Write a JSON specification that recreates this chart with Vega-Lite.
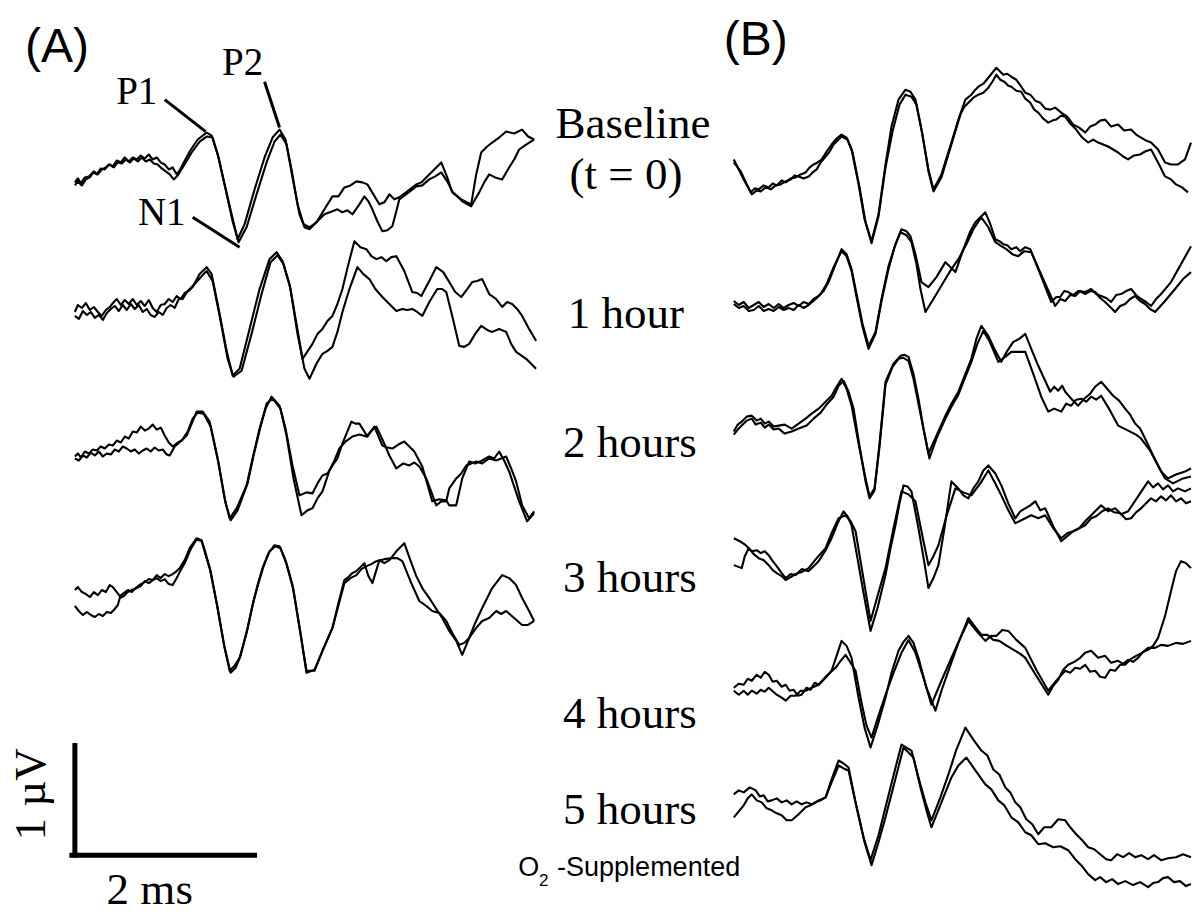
{
"$schema": "https://vega.github.io/schema/vega-lite/v6.json",
"width": 1193, "height": 913,
"autosize": {"type": "fit", "contains": "padding"},
"padding": 0,
"background": "white",
"config": {"view": {"stroke": null}},
"datasets": {
"traces": [
{"s":"A1a","x":75,"y":183},{"s":"A1a","x":78,"y":179},{"s":"A1a","x":81,"y":184},{"s":"A1a","x":85,"y":178},{"s":"A1a","x":89,"y":177},{"s":"A1a","x":93,"y":173},{"s":"A1a","x":97,"y":175},{"s":"A1a","x":101,"y":169},{"s":"A1a","x":105,"y":170},{"s":"A1a","x":109,"y":165},{"s":"A1a","x":113,"y":167},{"s":"A1a","x":117,"y":161},{"s":"A1a","x":121,"y":163},{"s":"A1a","x":125,"y":158},{"s":"A1a","x":129,"y":162},{"s":"A1a","x":133,"y":158},{"s":"A1a","x":137,"y":160},{"s":"A1a","x":141,"y":156},{"s":"A1a","x":145,"y":159},{"s":"A1a","x":149,"y":155},{"s":"A1a","x":153,"y":160},{"s":"A1a","x":157,"y":158},{"s":"A1a","x":161,"y":163},{"s":"A1a","x":165,"y":165},{"s":"A1a","x":169,"y":170},{"s":"A1a","x":173,"y":168},{"s":"A1a","x":177,"y":175},{"s":"A1a","x":180,"y":171},{"s":"A1a","x":183,"y":165},{"s":"A1a","x":190,"y":152},{"s":"A1a","x":198,"y":140},{"s":"A1a","x":207,"y":133},{"s":"A1a","x":212,"y":136},{"s":"A1a","x":218,"y":155},{"s":"A1a","x":225,"y":185},{"s":"A1a","x":232,"y":215},{"s":"A1a","x":238,"y":240},{"s":"A1a","x":245,"y":225},{"s":"A1a","x":255,"y":190},{"s":"A1a","x":265,"y":158},{"s":"A1a","x":273,"y":138},{"s":"A1a","x":280,"y":130},{"s":"A1a","x":286,"y":140},{"s":"A1a","x":292,"y":170},{"s":"A1a","x":298,"y":205},{"s":"A1a","x":305,"y":228},{"s":"A1a","x":310,"y":230},{"s":"A1a","x":317,"y":223},{"s":"A1a","x":325,"y":210},{"s":"A1a","x":333,"y":197},{"s":"A1a","x":339,"y":197},{"s":"A1a","x":345,"y":188},{"s":"A1a","x":351,"y":186},{"s":"A1a","x":357,"y":182},{"s":"A1a","x":363,"y":183},{"s":"A1a","x":368,"y":185},{"s":"A1a","x":374,"y":195},{"s":"A1a","x":380,"y":205},{"s":"A1a","x":385,"y":203},{"s":"A1a","x":390,"y":195},{"s":"A1a","x":395,"y":200},{"s":"A1a","x":400,"y":198},{"s":"A1a","x":408,"y":192},{"s":"A1a","x":417,"y":185},{"s":"A1a","x":422,"y":183},{"s":"A1a","x":427,"y":178},{"s":"A1a","x":435,"y":170},{"s":"A1a","x":442,"y":163},{"s":"A1a","x":448,"y":178},{"s":"A1a","x":453,"y":193},{"s":"A1a","x":462,"y":200},{"s":"A1a","x":472,"y":205},{"s":"A1a","x":477,"y":175},{"s":"A1a","x":482,"y":153},{"s":"A1a","x":488,"y":147},{"s":"A1a","x":493,"y":143},{"s":"A1a","x":500,"y":138},{"s":"A1a","x":507,"y":132},{"s":"A1a","x":515,"y":134},{"s":"A1a","x":523,"y":130},{"s":"A1a","x":529,"y":137},{"s":"A1a","x":535,"y":140},
{"s":"A1b","x":75,"y":186},{"s":"A1b","x":78,"y":182},{"s":"A1b","x":82,"y":186},{"s":"A1b","x":86,"y":180},{"s":"A1b","x":90,"y":178},{"s":"A1b","x":94,"y":172},{"s":"A1b","x":98,"y":175},{"s":"A1b","x":102,"y":170},{"s":"A1b","x":106,"y":168},{"s":"A1b","x":110,"y":165},{"s":"A1b","x":114,"y":168},{"s":"A1b","x":118,"y":163},{"s":"A1b","x":122,"y":164},{"s":"A1b","x":126,"y":160},{"s":"A1b","x":130,"y":163},{"s":"A1b","x":134,"y":159},{"s":"A1b","x":138,"y":162},{"s":"A1b","x":142,"y":158},{"s":"A1b","x":146,"y":162},{"s":"A1b","x":150,"y":160},{"s":"A1b","x":154,"y":164},{"s":"A1b","x":158,"y":165},{"s":"A1b","x":162,"y":169},{"s":"A1b","x":166,"y":172},{"s":"A1b","x":170,"y":175},{"s":"A1b","x":174,"y":180},{"s":"A1b","x":178,"y":176},{"s":"A1b","x":183,"y":168},{"s":"A1b","x":192,"y":153},{"s":"A1b","x":200,"y":142},{"s":"A1b","x":207,"y":137},{"s":"A1b","x":213,"y":138},{"s":"A1b","x":219,"y":158},{"s":"A1b","x":226,"y":190},{"s":"A1b","x":233,"y":222},{"s":"A1b","x":239,"y":243},{"s":"A1b","x":247,"y":228},{"s":"A1b","x":257,"y":195},{"s":"A1b","x":267,"y":163},{"s":"A1b","x":275,"y":142},{"s":"A1b","x":281,"y":135},{"s":"A1b","x":287,"y":145},{"s":"A1b","x":293,"y":178},{"s":"A1b","x":300,"y":215},{"s":"A1b","x":304,"y":225},{"s":"A1b","x":310,"y":228},{"s":"A1b","x":317,"y":223},{"s":"A1b","x":325,"y":215},{"s":"A1b","x":333,"y":212},{"s":"A1b","x":338,"y":210},{"s":"A1b","x":343,"y":213},{"s":"A1b","x":348,"y":211},{"s":"A1b","x":353,"y":215},{"s":"A1b","x":360,"y":205},{"s":"A1b","x":365,"y":197},{"s":"A1b","x":369,"y":202},{"s":"A1b","x":373,"y":210},{"s":"A1b","x":378,"y":222},{"s":"A1b","x":383,"y":232},{"s":"A1b","x":388,"y":231},{"s":"A1b","x":393,"y":227},{"s":"A1b","x":397,"y":212},{"s":"A1b","x":400,"y":200},{"s":"A1b","x":408,"y":194},{"s":"A1b","x":417,"y":187},{"s":"A1b","x":423,"y":186},{"s":"A1b","x":430,"y":180},{"s":"A1b","x":436,"y":177},{"s":"A1b","x":442,"y":173},{"s":"A1b","x":448,"y":182},{"s":"A1b","x":453,"y":192},{"s":"A1b","x":463,"y":202},{"s":"A1b","x":472,"y":207},{"s":"A1b","x":476,"y":200},{"s":"A1b","x":480,"y":193},{"s":"A1b","x":485,"y":183},{"s":"A1b","x":490,"y":175},{"s":"A1b","x":496,"y":178},{"s":"A1b","x":503,"y":180},{"s":"A1b","x":510,"y":168},{"s":"A1b","x":515,"y":160},{"s":"A1b","x":520,"y":150},{"s":"A1b","x":527,"y":145},{"s":"A1b","x":535,"y":140},
{"s":"A2a","x":75,"y":313},{"s":"A2a","x":78,"y":306},{"s":"A2a","x":82,"y":309},{"s":"A2a","x":86,"y":304},{"s":"A2a","x":90,"y":311},{"s":"A2a","x":94,"y":308},{"s":"A2a","x":98,"y":313},{"s":"A2a","x":102,"y":317},{"s":"A2a","x":106,"y":311},{"s":"A2a","x":110,"y":308},{"s":"A2a","x":114,"y":303},{"s":"A2a","x":117,"y":300},{"s":"A2a","x":121,"y":306},{"s":"A2a","x":125,"y":301},{"s":"A2a","x":129,"y":305},{"s":"A2a","x":133,"y":300},{"s":"A2a","x":137,"y":306},{"s":"A2a","x":141,"y":302},{"s":"A2a","x":145,"y":307},{"s":"A2a","x":149,"y":301},{"s":"A2a","x":153,"y":309},{"s":"A2a","x":157,"y":313},{"s":"A2a","x":161,"y":306},{"s":"A2a","x":165,"y":305},{"s":"A2a","x":169,"y":300},{"s":"A2a","x":173,"y":303},{"s":"A2a","x":177,"y":297},{"s":"A2a","x":181,"y":300},{"s":"A2a","x":185,"y":294},{"s":"A2a","x":189,"y":292},{"s":"A2a","x":193,"y":288},{"s":"A2a","x":200,"y":275},{"s":"A2a","x":207,"y":268},{"s":"A2a","x":212,"y":275},{"s":"A2a","x":220,"y":315},{"s":"A2a","x":227,"y":352},{"s":"A2a","x":233,"y":377},{"s":"A2a","x":240,"y":370},{"s":"A2a","x":250,"y":330},{"s":"A2a","x":260,"y":290},{"s":"A2a","x":270,"y":260},{"s":"A2a","x":277,"y":253},{"s":"A2a","x":283,"y":262},{"s":"A2a","x":290,"y":285},{"s":"A2a","x":297,"y":325},{"s":"A2a","x":303,"y":360},{"s":"A2a","x":313,"y":345},{"s":"A2a","x":318,"y":335},{"s":"A2a","x":323,"y":330},{"s":"A2a","x":328,"y":322},{"s":"A2a","x":333,"y":317},{"s":"A2a","x":338,"y":305},{"s":"A2a","x":343,"y":290},{"s":"A2a","x":349,"y":265},{"s":"A2a","x":355,"y":242},{"s":"A2a","x":361,"y":248},{"s":"A2a","x":367,"y":250},{"s":"A2a","x":372,"y":257},{"s":"A2a","x":377,"y":260},{"s":"A2a","x":382,"y":258},{"s":"A2a","x":387,"y":262},{"s":"A2a","x":392,"y":258},{"s":"A2a","x":397,"y":257},{"s":"A2a","x":405,"y":272},{"s":"A2a","x":413,"y":293},{"s":"A2a","x":418,"y":294},{"s":"A2a","x":422,"y":297},{"s":"A2a","x":430,"y":282},{"s":"A2a","x":437,"y":268},{"s":"A2a","x":444,"y":273},{"s":"A2a","x":450,"y":283},{"s":"A2a","x":456,"y":293},{"s":"A2a","x":462,"y":298},{"s":"A2a","x":468,"y":290},{"s":"A2a","x":473,"y":283},{"s":"A2a","x":478,"y":282},{"s":"A2a","x":483,"y":280},{"s":"A2a","x":490,"y":295},{"s":"A2a","x":497,"y":300},{"s":"A2a","x":503,"y":308},{"s":"A2a","x":508,"y":303},{"s":"A2a","x":513,"y":305},{"s":"A2a","x":518,"y":310},{"s":"A2a","x":523,"y":317},{"s":"A2a","x":530,"y":330},{"s":"A2a","x":537,"y":342},
{"s":"A2b","x":75,"y":317},{"s":"A2b","x":79,"y":320},{"s":"A2b","x":83,"y":312},{"s":"A2b","x":87,"y":316},{"s":"A2b","x":91,"y":313},{"s":"A2b","x":95,"y":319},{"s":"A2b","x":99,"y":316},{"s":"A2b","x":103,"y":321},{"s":"A2b","x":107,"y":314},{"s":"A2b","x":111,"y":310},{"s":"A2b","x":115,"y":307},{"s":"A2b","x":119,"y":312},{"s":"A2b","x":123,"y":306},{"s":"A2b","x":127,"y":311},{"s":"A2b","x":131,"y":305},{"s":"A2b","x":135,"y":310},{"s":"A2b","x":139,"y":306},{"s":"A2b","x":143,"y":313},{"s":"A2b","x":147,"y":310},{"s":"A2b","x":151,"y":316},{"s":"A2b","x":155,"y":318},{"s":"A2b","x":159,"y":313},{"s":"A2b","x":163,"y":316},{"s":"A2b","x":167,"y":309},{"s":"A2b","x":171,"y":306},{"s":"A2b","x":175,"y":309},{"s":"A2b","x":179,"y":300},{"s":"A2b","x":183,"y":300},{"s":"A2b","x":188,"y":292},{"s":"A2b","x":195,"y":285},{"s":"A2b","x":203,"y":276},{"s":"A2b","x":207,"y":272},{"s":"A2b","x":213,"y":282},{"s":"A2b","x":221,"y":322},{"s":"A2b","x":228,"y":360},{"s":"A2b","x":234,"y":378},{"s":"A2b","x":242,"y":372},{"s":"A2b","x":252,"y":335},{"s":"A2b","x":262,"y":295},{"s":"A2b","x":271,"y":263},{"s":"A2b","x":278,"y":256},{"s":"A2b","x":284,"y":265},{"s":"A2b","x":291,"y":290},{"s":"A2b","x":298,"y":335},{"s":"A2b","x":305,"y":370},{"s":"A2b","x":310,"y":380},{"s":"A2b","x":317,"y":365},{"s":"A2b","x":323,"y":355},{"s":"A2b","x":328,"y":352},{"s":"A2b","x":333,"y":348},{"s":"A2b","x":338,"y":333},{"s":"A2b","x":343,"y":313},{"s":"A2b","x":350,"y":290},{"s":"A2b","x":358,"y":268},{"s":"A2b","x":364,"y":275},{"s":"A2b","x":370,"y":280},{"s":"A2b","x":376,"y":290},{"s":"A2b","x":383,"y":298},{"s":"A2b","x":390,"y":305},{"s":"A2b","x":397,"y":312},{"s":"A2b","x":403,"y":310},{"s":"A2b","x":408,"y":311},{"s":"A2b","x":413,"y":310},{"s":"A2b","x":418,"y":313},{"s":"A2b","x":423,"y":317},{"s":"A2b","x":430,"y":303},{"s":"A2b","x":438,"y":290},{"s":"A2b","x":443,"y":290},{"s":"A2b","x":447,"y":293},{"s":"A2b","x":453,"y":317},{"s":"A2b","x":460,"y":347},{"s":"A2b","x":465,"y":348},{"s":"A2b","x":470,"y":345},{"s":"A2b","x":476,"y":335},{"s":"A2b","x":482,"y":327},{"s":"A2b","x":488,"y":331},{"s":"A2b","x":493,"y":333},{"s":"A2b","x":500,"y":330},{"s":"A2b","x":507,"y":333},{"s":"A2b","x":512,"y":345},{"s":"A2b","x":517,"y":353},{"s":"A2b","x":527,"y":360},{"s":"A2b","x":537,"y":370},
{"s":"A3a","x":75,"y":458},{"s":"A3a","x":78,"y":455},{"s":"A3a","x":81,"y":459},{"s":"A3a","x":85,"y":453},{"s":"A3a","x":89,"y":455},{"s":"A3a","x":93,"y":451},{"s":"A3a","x":97,"y":452},{"s":"A3a","x":101,"y":448},{"s":"A3a","x":105,"y":450},{"s":"A3a","x":109,"y":446},{"s":"A3a","x":113,"y":447},{"s":"A3a","x":117,"y":442},{"s":"A3a","x":121,"y":444},{"s":"A3a","x":125,"y":438},{"s":"A3a","x":129,"y":440},{"s":"A3a","x":133,"y":433},{"s":"A3a","x":137,"y":434},{"s":"A3a","x":141,"y":428},{"s":"A3a","x":145,"y":432},{"s":"A3a","x":149,"y":430},{"s":"A3a","x":153,"y":426},{"s":"A3a","x":157,"y":431},{"s":"A3a","x":161,"y":429},{"s":"A3a","x":165,"y":437},{"s":"A3a","x":169,"y":444},{"s":"A3a","x":173,"y":448},{"s":"A3a","x":178,"y":444},{"s":"A3a","x":183,"y":441},{"s":"A3a","x":187,"y":437},{"s":"A3a","x":192,"y":425},{"s":"A3a","x":197,"y":413},{"s":"A3a","x":203,"y":413},{"s":"A3a","x":210,"y":423},{"s":"A3a","x":218,"y":460},{"s":"A3a","x":225,"y":500},{"s":"A3a","x":230,"y":520},{"s":"A3a","x":237,"y":510},{"s":"A3a","x":247,"y":487},{"s":"A3a","x":253,"y":460},{"s":"A3a","x":260,"y":430},{"s":"A3a","x":266,"y":410},{"s":"A3a","x":272,"y":398},{"s":"A3a","x":280,"y":407},{"s":"A3a","x":286,"y":430},{"s":"A3a","x":293,"y":467},{"s":"A3a","x":300,"y":497},{"s":"A3a","x":307,"y":494},{"s":"A3a","x":313,"y":495},{"s":"A3a","x":318,"y":485},{"s":"A3a","x":323,"y":477},{"s":"A3a","x":328,"y":475},{"s":"A3a","x":333,"y":467},{"s":"A3a","x":338,"y":460},{"s":"A3a","x":343,"y":445},{"s":"A3a","x":352,"y":423},{"s":"A3a","x":356,"y":425},{"s":"A3a","x":360,"y":425},{"s":"A3a","x":368,"y":438},{"s":"A3a","x":375,"y":428},{"s":"A3a","x":383,"y":447},{"s":"A3a","x":388,"y":449},{"s":"A3a","x":393,"y":450},{"s":"A3a","x":399,"y":446},{"s":"A3a","x":405,"y":443},{"s":"A3a","x":410,"y":448},{"s":"A3a","x":415,"y":453},{"s":"A3a","x":423,"y":468},{"s":"A3a","x":433,"y":503},{"s":"A3a","x":440,"y":501},{"s":"A3a","x":447,"y":502},{"s":"A3a","x":450,"y":507},{"s":"A3a","x":457,"y":507},{"s":"A3a","x":463,"y":480},{"s":"A3a","x":470,"y":463},{"s":"A3a","x":476,"y":465},{"s":"A3a","x":483,"y":462},{"s":"A3a","x":490,"y":458},{"s":"A3a","x":495,"y":460},{"s":"A3a","x":500,"y":453},{"s":"A3a","x":505,"y":462},{"s":"A3a","x":510,"y":473},{"s":"A3a","x":520,"y":503},{"s":"A3a","x":528,"y":523},{"s":"A3a","x":535,"y":515},
{"s":"A3b","x":75,"y":460},{"s":"A3b","x":79,"y":462},{"s":"A3b","x":83,"y":457},{"s":"A3b","x":87,"y":459},{"s":"A3b","x":91,"y":454},{"s":"A3b","x":95,"y":457},{"s":"A3b","x":99,"y":453},{"s":"A3b","x":103,"y":458},{"s":"A3b","x":107,"y":455},{"s":"A3b","x":111,"y":456},{"s":"A3b","x":115,"y":451},{"s":"A3b","x":119,"y":453},{"s":"A3b","x":123,"y":448},{"s":"A3b","x":127,"y":450},{"s":"A3b","x":131,"y":453},{"s":"A3b","x":135,"y":451},{"s":"A3b","x":139,"y":455},{"s":"A3b","x":143,"y":452},{"s":"A3b","x":147,"y":450},{"s":"A3b","x":151,"y":453},{"s":"A3b","x":155,"y":449},{"s":"A3b","x":159,"y":452},{"s":"A3b","x":163,"y":451},{"s":"A3b","x":167,"y":456},{"s":"A3b","x":170,"y":457},{"s":"A3b","x":175,"y":448},{"s":"A3b","x":182,"y":442},{"s":"A3b","x":188,"y":433},{"s":"A3b","x":193,"y":420},{"s":"A3b","x":198,"y":414},{"s":"A3b","x":204,"y":415},{"s":"A3b","x":211,"y":428},{"s":"A3b","x":219,"y":465},{"s":"A3b","x":226,"y":505},{"s":"A3b","x":231,"y":522},{"s":"A3b","x":238,"y":512},{"s":"A3b","x":248,"y":485},{"s":"A3b","x":254,"y":457},{"s":"A3b","x":261,"y":428},{"s":"A3b","x":267,"y":405},{"s":"A3b","x":273,"y":400},{"s":"A3b","x":281,"y":410},{"s":"A3b","x":287,"y":437},{"s":"A3b","x":294,"y":480},{"s":"A3b","x":302,"y":517},{"s":"A3b","x":308,"y":512},{"s":"A3b","x":313,"y":510},{"s":"A3b","x":318,"y":500},{"s":"A3b","x":323,"y":493},{"s":"A3b","x":330,"y":472},{"s":"A3b","x":335,"y":462},{"s":"A3b","x":340,"y":450},{"s":"A3b","x":346,"y":443},{"s":"A3b","x":353,"y":438},{"s":"A3b","x":360,"y":436},{"s":"A3b","x":367,"y":438},{"s":"A3b","x":372,"y":432},{"s":"A3b","x":377,"y":428},{"s":"A3b","x":384,"y":443},{"s":"A3b","x":390,"y":457},{"s":"A3b","x":397,"y":470},{"s":"A3b","x":404,"y":465},{"s":"A3b","x":410,"y":467},{"s":"A3b","x":415,"y":464},{"s":"A3b","x":420,"y":468},{"s":"A3b","x":427,"y":480},{"s":"A3b","x":437,"y":507},{"s":"A3b","x":442,"y":503},{"s":"A3b","x":447,"y":503},{"s":"A3b","x":450,"y":490},{"s":"A3b","x":457,"y":480},{"s":"A3b","x":462,"y":475},{"s":"A3b","x":467,"y":467},{"s":"A3b","x":472,"y":465},{"s":"A3b","x":477,"y":463},{"s":"A3b","x":483,"y":465},{"s":"A3b","x":490,"y":460},{"s":"A3b","x":497,"y":462},{"s":"A3b","x":507,"y":458},{"s":"A3b","x":512,"y":470},{"s":"A3b","x":517,"y":483},{"s":"A3b","x":523,"y":507},{"s":"A3b","x":530,"y":520},{"s":"A3b","x":535,"y":513},
{"s":"A4a","x":75,"y":592},{"s":"A4a","x":78,"y":589},{"s":"A4a","x":82,"y":594},{"s":"A4a","x":86,"y":596},{"s":"A4a","x":90,"y":599},{"s":"A4a","x":94,"y":594},{"s":"A4a","x":98,"y":597},{"s":"A4a","x":102,"y":592},{"s":"A4a","x":106,"y":594},{"s":"A4a","x":110,"y":587},{"s":"A4a","x":113,"y":589},{"s":"A4a","x":117,"y":594},{"s":"A4a","x":120,"y":598},{"s":"A4a","x":124,"y":595},{"s":"A4a","x":128,"y":592},{"s":"A4a","x":132,"y":594},{"s":"A4a","x":137,"y":589},{"s":"A4a","x":141,"y":586},{"s":"A4a","x":145,"y":584},{"s":"A4a","x":149,"y":581},{"s":"A4a","x":153,"y":582},{"s":"A4a","x":157,"y":577},{"s":"A4a","x":161,"y":580},{"s":"A4a","x":165,"y":576},{"s":"A4a","x":169,"y":578},{"s":"A4a","x":173,"y":576},{"s":"A4a","x":177,"y":573},{"s":"A4a","x":180,"y":570},{"s":"A4a","x":185,"y":562},{"s":"A4a","x":190,"y":550},{"s":"A4a","x":197,"y":540},{"s":"A4a","x":202,"y":542},{"s":"A4a","x":206,"y":555},{"s":"A4a","x":210,"y":570},{"s":"A4a","x":217,"y":605},{"s":"A4a","x":224,"y":645},{"s":"A4a","x":230,"y":673},{"s":"A4a","x":235,"y":668},{"s":"A4a","x":240,"y":660},{"s":"A4a","x":247,"y":635},{"s":"A4a","x":253,"y":607},{"s":"A4a","x":258,"y":587},{"s":"A4a","x":263,"y":570},{"s":"A4a","x":269,"y":555},{"s":"A4a","x":275,"y":547},{"s":"A4a","x":280,"y":548},{"s":"A4a","x":286,"y":562},{"s":"A4a","x":293,"y":587},{"s":"A4a","x":300,"y":630},{"s":"A4a","x":307,"y":673},{"s":"A4a","x":315,"y":673},{"s":"A4a","x":323,"y":653},{"s":"A4a","x":333,"y":630},{"s":"A4a","x":339,"y":605},{"s":"A4a","x":345,"y":582},{"s":"A4a","x":349,"y":579},{"s":"A4a","x":353,"y":575},{"s":"A4a","x":357,"y":573},{"s":"A4a","x":360,"y":570},{"s":"A4a","x":365,"y":565},{"s":"A4a","x":369,"y":578},{"s":"A4a","x":373,"y":585},{"s":"A4a","x":377,"y":572},{"s":"A4a","x":380,"y":562},{"s":"A4a","x":385,"y":565},{"s":"A4a","x":390,"y":562},{"s":"A4a","x":398,"y":552},{"s":"A4a","x":405,"y":545},{"s":"A4a","x":411,"y":562},{"s":"A4a","x":417,"y":578},{"s":"A4a","x":423,"y":590},{"s":"A4a","x":430,"y":600},{"s":"A4a","x":437,"y":611},{"s":"A4a","x":443,"y":620},{"s":"A4a","x":450,"y":633},{"s":"A4a","x":457,"y":643},{"s":"A4a","x":463,"y":657},{"s":"A4a","x":470,"y":640},{"s":"A4a","x":476,"y":625},{"s":"A4a","x":483,"y":610},{"s":"A4a","x":493,"y":590},{"s":"A4a","x":503,"y":577},{"s":"A4a","x":510,"y":580},{"s":"A4a","x":517,"y":587},{"s":"A4a","x":523,"y":600},{"s":"A4a","x":530,"y":613},{"s":"A4a","x":535,"y":623},
{"s":"A4b","x":75,"y":608},{"s":"A4b","x":79,"y":613},{"s":"A4b","x":83,"y":617},{"s":"A4b","x":87,"y":614},{"s":"A4b","x":91,"y":617},{"s":"A4b","x":95,"y":619},{"s":"A4b","x":99,"y":616},{"s":"A4b","x":103,"y":618},{"s":"A4b","x":107,"y":614},{"s":"A4b","x":111,"y":615},{"s":"A4b","x":115,"y":611},{"s":"A4b","x":118,"y":607},{"s":"A4b","x":120,"y":600},{"s":"A4b","x":124,"y":598},{"s":"A4b","x":128,"y":594},{"s":"A4b","x":132,"y":592},{"s":"A4b","x":137,"y":590},{"s":"A4b","x":141,"y":588},{"s":"A4b","x":145,"y":583},{"s":"A4b","x":149,"y":585},{"s":"A4b","x":153,"y":582},{"s":"A4b","x":157,"y":580},{"s":"A4b","x":161,"y":583},{"s":"A4b","x":165,"y":581},{"s":"A4b","x":169,"y":586},{"s":"A4b","x":173,"y":587},{"s":"A4b","x":177,"y":580},{"s":"A4b","x":181,"y":572},{"s":"A4b","x":186,"y":563},{"s":"A4b","x":191,"y":551},{"s":"A4b","x":197,"y":541},{"s":"A4b","x":202,"y":543},{"s":"A4b","x":206,"y":557},{"s":"A4b","x":211,"y":573},{"s":"A4b","x":218,"y":610},{"s":"A4b","x":225,"y":650},{"s":"A4b","x":231,"y":675},{"s":"A4b","x":236,"y":670},{"s":"A4b","x":241,"y":658},{"s":"A4b","x":248,"y":630},{"s":"A4b","x":254,"y":603},{"s":"A4b","x":259,"y":585},{"s":"A4b","x":264,"y":568},{"s":"A4b","x":270,"y":553},{"s":"A4b","x":276,"y":548},{"s":"A4b","x":281,"y":550},{"s":"A4b","x":287,"y":566},{"s":"A4b","x":294,"y":592},{"s":"A4b","x":301,"y":635},{"s":"A4b","x":307,"y":675},{"s":"A4b","x":315,"y":672},{"s":"A4b","x":323,"y":653},{"s":"A4b","x":333,"y":630},{"s":"A4b","x":345,"y":585},{"s":"A4b","x":351,"y":580},{"s":"A4b","x":357,"y":577},{"s":"A4b","x":362,"y":571},{"s":"A4b","x":367,"y":568},{"s":"A4b","x":372,"y":566},{"s":"A4b","x":377,"y":563},{"s":"A4b","x":385,"y":561},{"s":"A4b","x":393,"y":560},{"s":"A4b","x":398,"y":560},{"s":"A4b","x":403,"y":563},{"s":"A4b","x":412,"y":585},{"s":"A4b","x":420,"y":603},{"s":"A4b","x":427,"y":608},{"s":"A4b","x":433,"y":613},{"s":"A4b","x":440,"y":615},{"s":"A4b","x":447,"y":623},{"s":"A4b","x":453,"y":635},{"s":"A4b","x":460,"y":647},{"s":"A4b","x":465,"y":645},{"s":"A4b","x":470,"y":640},{"s":"A4b","x":477,"y":630},{"s":"A4b","x":483,"y":623},{"s":"A4b","x":490,"y":620},{"s":"A4b","x":497,"y":613},{"s":"A4b","x":502,"y":616},{"s":"A4b","x":507,"y":613},{"s":"A4b","x":515,"y":620},{"s":"A4b","x":523,"y":627},{"s":"A4b","x":529,"y":627},{"s":"A4b","x":535,"y":623},
{"s":"B1a","x":735,"y":160},{"s":"B1a","x":740,"y":170},{"s":"B1a","x":745,"y":180},{"s":"B1a","x":752,"y":193},{"s":"B1a","x":756,"y":189},{"s":"B1a","x":760,"y":190},{"s":"B1a","x":765,"y":186},{"s":"B1a","x":770,"y":188},{"s":"B1a","x":774,"y":184},{"s":"B1a","x":778,"y":186},{"s":"B1a","x":783,"y":181},{"s":"B1a","x":787,"y":183},{"s":"B1a","x":792,"y":179},{"s":"B1a","x":797,"y":178},{"s":"B1a","x":802,"y":175},{"s":"B1a","x":807,"y":173},{"s":"B1a","x":811,"y":168},{"s":"B1a","x":815,"y":165},{"s":"B1a","x":819,"y":163},{"s":"B1a","x":823,"y":160},{"s":"B1a","x":828,"y":152},{"s":"B1a","x":833,"y":145},{"s":"B1a","x":838,"y":139},{"s":"B1a","x":843,"y":135},{"s":"B1a","x":848,"y":138},{"s":"B1a","x":853,"y":150},{"s":"B1a","x":860,"y":185},{"s":"B1a","x":866,"y":220},{"s":"B1a","x":873,"y":242},{"s":"B1a","x":880,"y":215},{"s":"B1a","x":887,"y":165},{"s":"B1a","x":893,"y":127},{"s":"B1a","x":900,"y":100},{"s":"B1a","x":907,"y":90},{"s":"B1a","x":912,"y":92},{"s":"B1a","x":917,"y":100},{"s":"B1a","x":923,"y":130},{"s":"B1a","x":930,"y":170},{"s":"B1a","x":935,"y":190},{"s":"B1a","x":943,"y":175},{"s":"B1a","x":953,"y":143},{"s":"B1a","x":960,"y":120},{"s":"B1a","x":967,"y":100},{"s":"B1a","x":973,"y":95},{"s":"B1a","x":977,"y":90},{"s":"B1a","x":980,"y":87},{"s":"B1a","x":985,"y":84},{"s":"B1a","x":990,"y":78},{"s":"B1a","x":994,"y":73},{"s":"B1a","x":998,"y":68},{"s":"B1a","x":1002,"y":72},{"s":"B1a","x":1005,"y":75},{"s":"B1a","x":1009,"y":74},{"s":"B1a","x":1013,"y":77},{"s":"B1a","x":1018,"y":80},{"s":"B1a","x":1023,"y":87},{"s":"B1a","x":1027,"y":93},{"s":"B1a","x":1032,"y":95},{"s":"B1a","x":1037,"y":101},{"s":"B1a","x":1042,"y":103},{"s":"B1a","x":1047,"y":109},{"s":"B1a","x":1052,"y":110},{"s":"B1a","x":1057,"y":108},{"s":"B1a","x":1063,"y":113},{"s":"B1a","x":1069,"y":117},{"s":"B1a","x":1075,"y":125},{"s":"B1a","x":1081,"y":128},{"s":"B1a","x":1087,"y":133},{"s":"B1a","x":1092,"y":127},{"s":"B1a","x":1097,"y":125},{"s":"B1a","x":1102,"y":121},{"s":"B1a","x":1107,"y":120},{"s":"B1a","x":1113,"y":127},{"s":"B1a","x":1120,"y":125},{"s":"B1a","x":1126,"y":131},{"s":"B1a","x":1133,"y":130},{"s":"B1a","x":1138,"y":135},{"s":"B1a","x":1143,"y":138},{"s":"B1a","x":1148,"y":141},{"s":"B1a","x":1153,"y":143},{"s":"B1a","x":1160,"y":150},{"s":"B1a","x":1167,"y":163},{"s":"B1a","x":1173,"y":165},{"s":"B1a","x":1180,"y":165},{"s":"B1a","x":1187,"y":160},{"s":"B1a","x":1193,"y":143},
{"s":"B1b","x":735,"y":163},{"s":"B1b","x":742,"y":172},{"s":"B1b","x":748,"y":185},{"s":"B1b","x":753,"y":195},{"s":"B1b","x":758,"y":191},{"s":"B1b","x":762,"y":192},{"s":"B1b","x":767,"y":188},{"s":"B1b","x":772,"y":190},{"s":"B1b","x":777,"y":186},{"s":"B1b","x":782,"y":185},{"s":"B1b","x":787,"y":182},{"s":"B1b","x":792,"y":180},{"s":"B1b","x":796,"y":176},{"s":"B1b","x":800,"y":177},{"s":"B1b","x":805,"y":179},{"s":"B1b","x":810,"y":177},{"s":"B1b","x":814,"y":173},{"s":"B1b","x":818,"y":170},{"s":"B1b","x":822,"y":163},{"s":"B1b","x":827,"y":157},{"s":"B1b","x":831,"y":152},{"s":"B1b","x":835,"y":145},{"s":"B1b","x":843,"y":137},{"s":"B1b","x":849,"y":140},{"s":"B1b","x":854,"y":153},{"s":"B1b","x":861,"y":188},{"s":"B1b","x":867,"y":223},{"s":"B1b","x":873,"y":244},{"s":"B1b","x":880,"y":217},{"s":"B1b","x":887,"y":168},{"s":"B1b","x":894,"y":132},{"s":"B1b","x":901,"y":105},{"s":"B1b","x":907,"y":95},{"s":"B1b","x":913,"y":97},{"s":"B1b","x":918,"y":105},{"s":"B1b","x":924,"y":135},{"s":"B1b","x":930,"y":172},{"s":"B1b","x":935,"y":192},{"s":"B1b","x":943,"y":178},{"s":"B1b","x":953,"y":145},{"s":"B1b","x":962,"y":115},{"s":"B1b","x":966,"y":107},{"s":"B1b","x":970,"y":103},{"s":"B1b","x":975,"y":98},{"s":"B1b","x":980,"y":95},{"s":"B1b","x":985,"y":93},{"s":"B1b","x":990,"y":88},{"s":"B1b","x":994,"y":82},{"s":"B1b","x":998,"y":75},{"s":"B1b","x":1002,"y":80},{"s":"B1b","x":1006,"y":82},{"s":"B1b","x":1010,"y":86},{"s":"B1b","x":1013,"y":87},{"s":"B1b","x":1018,"y":91},{"s":"B1b","x":1023,"y":92},{"s":"B1b","x":1027,"y":99},{"s":"B1b","x":1032,"y":103},{"s":"B1b","x":1036,"y":110},{"s":"B1b","x":1040,"y":113},{"s":"B1b","x":1045,"y":119},{"s":"B1b","x":1050,"y":123},{"s":"B1b","x":1054,"y":121},{"s":"B1b","x":1058,"y":120},{"s":"B1b","x":1063,"y":116},{"s":"B1b","x":1067,"y":117},{"s":"B1b","x":1072,"y":124},{"s":"B1b","x":1078,"y":130},{"s":"B1b","x":1084,"y":138},{"s":"B1b","x":1090,"y":143},{"s":"B1b","x":1095,"y":140},{"s":"B1b","x":1100,"y":143},{"s":"B1b","x":1105,"y":145},{"s":"B1b","x":1110,"y":147},{"s":"B1b","x":1115,"y":150},{"s":"B1b","x":1120,"y":153},{"s":"B1b","x":1125,"y":157},{"s":"B1b","x":1130,"y":160},{"s":"B1b","x":1136,"y":156},{"s":"B1b","x":1142,"y":155},{"s":"B1b","x":1147,"y":152},{"s":"B1b","x":1153,"y":150},{"s":"B1b","x":1160,"y":163},{"s":"B1b","x":1167,"y":177},{"s":"B1b","x":1173,"y":180},{"s":"B1b","x":1178,"y":185},{"s":"B1b","x":1184,"y":188},{"s":"B1b","x":1190,"y":193},
{"s":"B2a","x":735,"y":302},{"s":"B2a","x":740,"y":306},{"s":"B2a","x":745,"y":303},{"s":"B2a","x":750,"y":309},{"s":"B2a","x":755,"y":306},{"s":"B2a","x":760,"y":303},{"s":"B2a","x":765,"y":308},{"s":"B2a","x":770,"y":305},{"s":"B2a","x":775,"y":309},{"s":"B2a","x":780,"y":305},{"s":"B2a","x":785,"y":309},{"s":"B2a","x":790,"y":306},{"s":"B2a","x":795,"y":304},{"s":"B2a","x":800,"y":307},{"s":"B2a","x":805,"y":303},{"s":"B2a","x":810,"y":305},{"s":"B2a","x":815,"y":300},{"s":"B2a","x":820,"y":297},{"s":"B2a","x":825,"y":292},{"s":"B2a","x":830,"y":283},{"s":"B2a","x":837,"y":265},{"s":"B2a","x":843,"y":250},{"s":"B2a","x":848,"y":255},{"s":"B2a","x":853,"y":270},{"s":"B2a","x":858,"y":295},{"s":"B2a","x":864,"y":325},{"s":"B2a","x":870,"y":347},{"s":"B2a","x":877,"y":333},{"s":"B2a","x":883,"y":300},{"s":"B2a","x":890,"y":267},{"s":"B2a","x":897,"y":245},{"s":"B2a","x":903,"y":230},{"s":"B2a","x":908,"y":232},{"s":"B2a","x":912,"y":237},{"s":"B2a","x":917,"y":255},{"s":"B2a","x":923,"y":283},{"s":"B2a","x":930,"y":288},{"s":"B2a","x":938,"y":278},{"s":"B2a","x":947,"y":263},{"s":"B2a","x":952,"y":268},{"s":"B2a","x":957,"y":273},{"s":"B2a","x":965,"y":250},{"s":"B2a","x":972,"y":232},{"s":"B2a","x":977,"y":223},{"s":"B2a","x":982,"y":218},{"s":"B2a","x":987,"y":213},{"s":"B2a","x":992,"y":225},{"s":"B2a","x":997,"y":240},{"s":"B2a","x":1001,"y":242},{"s":"B2a","x":1005,"y":245},{"s":"B2a","x":1009,"y":246},{"s":"B2a","x":1013,"y":250},{"s":"B2a","x":1018,"y":248},{"s":"B2a","x":1022,"y":252},{"s":"B2a","x":1027,"y":248},{"s":"B2a","x":1032,"y":250},{"s":"B2a","x":1042,"y":275},{"s":"B2a","x":1053,"y":303},{"s":"B2a","x":1058,"y":298},{"s":"B2a","x":1062,"y":298},{"s":"B2a","x":1066,"y":292},{"s":"B2a","x":1070,"y":293},{"s":"B2a","x":1075,"y":296},{"s":"B2a","x":1080,"y":292},{"s":"B2a","x":1087,"y":293},{"s":"B2a","x":1093,"y":290},{"s":"B2a","x":1098,"y":295},{"s":"B2a","x":1103,"y":297},{"s":"B2a","x":1108,"y":299},{"s":"B2a","x":1113,"y":303},{"s":"B2a","x":1118,"y":296},{"s":"B2a","x":1123,"y":295},{"s":"B2a","x":1128,"y":292},{"s":"B2a","x":1133,"y":290},{"s":"B2a","x":1138,"y":296},{"s":"B2a","x":1143,"y":300},{"s":"B2a","x":1148,"y":303},{"s":"B2a","x":1153,"y":307},{"s":"B2a","x":1158,"y":300},{"s":"B2a","x":1163,"y":295},{"s":"B2a","x":1173,"y":283},{"s":"B2a","x":1183,"y":265},{"s":"B2a","x":1193,"y":247},
{"s":"B2b","x":735,"y":305},{"s":"B2b","x":740,"y":309},{"s":"B2b","x":745,"y":307},{"s":"B2b","x":750,"y":312},{"s":"B2b","x":755,"y":311},{"s":"B2b","x":760,"y":307},{"s":"B2b","x":765,"y":312},{"s":"B2b","x":770,"y":310},{"s":"B2b","x":775,"y":312},{"s":"B2b","x":780,"y":308},{"s":"B2b","x":785,"y":311},{"s":"B2b","x":790,"y":309},{"s":"B2b","x":795,"y":311},{"s":"B2b","x":800,"y":306},{"s":"B2b","x":805,"y":309},{"s":"B2b","x":810,"y":306},{"s":"B2b","x":817,"y":300},{"s":"B2b","x":822,"y":295},{"s":"B2b","x":828,"y":285},{"s":"B2b","x":835,"y":268},{"s":"B2b","x":843,"y":252},{"s":"B2b","x":848,"y":257},{"s":"B2b","x":853,"y":272},{"s":"B2b","x":858,"y":298},{"s":"B2b","x":864,"y":328},{"s":"B2b","x":870,"y":350},{"s":"B2b","x":877,"y":335},{"s":"B2b","x":883,"y":302},{"s":"B2b","x":890,"y":270},{"s":"B2b","x":896,"y":248},{"s":"B2b","x":902,"y":233},{"s":"B2b","x":908,"y":236},{"s":"B2b","x":913,"y":243},{"s":"B2b","x":918,"y":265},{"s":"B2b","x":922,"y":290},{"s":"B2b","x":927,"y":313},{"s":"B2b","x":935,"y":300},{"s":"B2b","x":947,"y":280},{"s":"B2b","x":953,"y":270},{"s":"B2b","x":960,"y":260},{"s":"B2b","x":968,"y":245},{"s":"B2b","x":975,"y":230},{"s":"B2b","x":983,"y":218},{"s":"B2b","x":990,"y":228},{"s":"B2b","x":997,"y":243},{"s":"B2b","x":1003,"y":247},{"s":"B2b","x":1008,"y":250},{"s":"B2b","x":1014,"y":255},{"s":"B2b","x":1020,"y":257},{"s":"B2b","x":1026,"y":252},{"s":"B2b","x":1033,"y":253},{"s":"B2b","x":1045,"y":280},{"s":"B2b","x":1057,"y":307},{"s":"B2b","x":1062,"y":300},{"s":"B2b","x":1067,"y":302},{"s":"B2b","x":1072,"y":296},{"s":"B2b","x":1077,"y":297},{"s":"B2b","x":1082,"y":292},{"s":"B2b","x":1087,"y":295},{"s":"B2b","x":1092,"y":292},{"s":"B2b","x":1097,"y":293},{"s":"B2b","x":1102,"y":299},{"s":"B2b","x":1107,"y":303},{"s":"B2b","x":1112,"y":308},{"s":"B2b","x":1117,"y":313},{"s":"B2b","x":1122,"y":307},{"s":"B2b","x":1127,"y":305},{"s":"B2b","x":1132,"y":300},{"s":"B2b","x":1137,"y":297},{"s":"B2b","x":1142,"y":302},{"s":"B2b","x":1147,"y":305},{"s":"B2b","x":1152,"y":310},{"s":"B2b","x":1157,"y":313},{"s":"B2b","x":1167,"y":302},{"s":"B2b","x":1177,"y":290},{"s":"B2b","x":1185,"y":280},{"s":"B2b","x":1193,"y":273},
{"s":"B3a","x":735,"y":433},{"s":"B3a","x":739,"y":426},{"s":"B3a","x":743,"y":423},{"s":"B3a","x":748,"y":418},{"s":"B3a","x":753,"y":417},{"s":"B3a","x":758,"y":422},{"s":"B3a","x":762,"y":420},{"s":"B3a","x":766,"y":425},{"s":"B3a","x":770,"y":423},{"s":"B3a","x":775,"y":428},{"s":"B3a","x":780,"y":427},{"s":"B3a","x":786,"y":426},{"s":"B3a","x":793,"y":430},{"s":"B3a","x":800,"y":425},{"s":"B3a","x":807,"y":420},{"s":"B3a","x":813,"y":415},{"s":"B3a","x":820,"y":410},{"s":"B3a","x":827,"y":403},{"s":"B3a","x":833,"y":397},{"s":"B3a","x":838,"y":388},{"s":"B3a","x":843,"y":380},{"s":"B3a","x":848,"y":390},{"s":"B3a","x":853,"y":407},{"s":"B3a","x":860,"y":445},{"s":"B3a","x":867,"y":480},{"s":"B3a","x":871,"y":498},{"s":"B3a","x":876,"y":490},{"s":"B3a","x":881,"y":445},{"s":"B3a","x":887,"y":383},{"s":"B3a","x":895,"y":365},{"s":"B3a","x":902,"y":357},{"s":"B3a","x":906,"y":356},{"s":"B3a","x":910,"y":358},{"s":"B3a","x":915,"y":375},{"s":"B3a","x":920,"y":400},{"s":"B3a","x":925,"y":430},{"s":"B3a","x":930,"y":455},{"s":"B3a","x":938,"y":437},{"s":"B3a","x":947,"y":417},{"s":"B3a","x":953,"y":405},{"s":"B3a","x":960,"y":393},{"s":"B3a","x":967,"y":375},{"s":"B3a","x":973,"y":360},{"s":"B3a","x":978,"y":340},{"s":"B3a","x":983,"y":327},{"s":"B3a","x":990,"y":337},{"s":"B3a","x":997,"y":352},{"s":"B3a","x":1003,"y":363},{"s":"B3a","x":1009,"y":352},{"s":"B3a","x":1015,"y":343},{"s":"B3a","x":1021,"y":340},{"s":"B3a","x":1027,"y":335},{"s":"B3a","x":1033,"y":350},{"s":"B3a","x":1040,"y":367},{"s":"B3a","x":1046,"y":380},{"s":"B3a","x":1052,"y":393},{"s":"B3a","x":1056,"y":388},{"s":"B3a","x":1060,"y":392},{"s":"B3a","x":1064,"y":387},{"s":"B3a","x":1067,"y":393},{"s":"B3a","x":1073,"y":400},{"s":"B3a","x":1080,"y":407},{"s":"B3a","x":1086,"y":400},{"s":"B3a","x":1092,"y":395},{"s":"B3a","x":1097,"y":388},{"s":"B3a","x":1103,"y":383},{"s":"B3a","x":1109,"y":390},{"s":"B3a","x":1115,"y":397},{"s":"B3a","x":1121,"y":402},{"s":"B3a","x":1127,"y":410},{"s":"B3a","x":1132,"y":416},{"s":"B3a","x":1137,"y":425},{"s":"B3a","x":1142,"y":430},{"s":"B3a","x":1147,"y":440},{"s":"B3a","x":1155,"y":457},{"s":"B3a","x":1163,"y":473},{"s":"B3a","x":1170,"y":480},{"s":"B3a","x":1178,"y":476},{"s":"B3a","x":1187,"y":473},{"s":"B3a","x":1193,"y":470},
{"s":"B3b","x":735,"y":436},{"s":"B3b","x":739,"y":431},{"s":"B3b","x":743,"y":427},{"s":"B3b","x":748,"y":422},{"s":"B3b","x":753,"y":420},{"s":"B3b","x":757,"y":426},{"s":"B3b","x":762,"y":424},{"s":"B3b","x":766,"y":429},{"s":"B3b","x":770,"y":426},{"s":"B3b","x":775,"y":431},{"s":"B3b","x":780,"y":430},{"s":"B3b","x":786,"y":435},{"s":"B3b","x":793,"y":433},{"s":"B3b","x":800,"y":430},{"s":"B3b","x":808,"y":427},{"s":"B3b","x":815,"y":420},{"s":"B3b","x":822,"y":414},{"s":"B3b","x":828,"y":406},{"s":"B3b","x":835,"y":398},{"s":"B3b","x":840,"y":387},{"s":"B3b","x":845,"y":382},{"s":"B3b","x":850,"y":393},{"s":"B3b","x":855,"y":410},{"s":"B3b","x":861,"y":448},{"s":"B3b","x":867,"y":483},{"s":"B3b","x":871,"y":500},{"s":"B3b","x":876,"y":492},{"s":"B3b","x":881,"y":448},{"s":"B3b","x":887,"y":386},{"s":"B3b","x":894,"y":368},{"s":"B3b","x":900,"y":360},{"s":"B3b","x":905,"y":359},{"s":"B3b","x":910,"y":362},{"s":"B3b","x":915,"y":380},{"s":"B3b","x":920,"y":405},{"s":"B3b","x":926,"y":435},{"s":"B3b","x":931,"y":460},{"s":"B3b","x":938,"y":440},{"s":"B3b","x":947,"y":420},{"s":"B3b","x":953,"y":408},{"s":"B3b","x":960,"y":396},{"s":"B3b","x":967,"y":378},{"s":"B3b","x":973,"y":363},{"s":"B3b","x":979,"y":345},{"s":"B3b","x":985,"y":332},{"s":"B3b","x":991,"y":342},{"s":"B3b","x":1000,"y":363},{"s":"B3b","x":1007,"y":358},{"s":"B3b","x":1013,"y":353},{"s":"B3b","x":1020,"y":353},{"s":"B3b","x":1027,"y":353},{"s":"B3b","x":1035,"y":375},{"s":"B3b","x":1043,"y":398},{"s":"B3b","x":1050,"y":413},{"s":"B3b","x":1056,"y":410},{"s":"B3b","x":1063,"y":413},{"s":"B3b","x":1068,"y":405},{"s":"B3b","x":1073,"y":407},{"s":"B3b","x":1078,"y":401},{"s":"B3b","x":1083,"y":400},{"s":"B3b","x":1088,"y":403},{"s":"B3b","x":1093,"y":398},{"s":"B3b","x":1098,"y":401},{"s":"B3b","x":1103,"y":397},{"s":"B3b","x":1112,"y":412},{"s":"B3b","x":1120,"y":427},{"s":"B3b","x":1126,"y":430},{"s":"B3b","x":1132,"y":433},{"s":"B3b","x":1138,"y":436},{"s":"B3b","x":1143,"y":440},{"s":"B3b","x":1152,"y":452},{"s":"B3b","x":1160,"y":467},{"s":"B3b","x":1167,"y":480},{"s":"B3b","x":1175,"y":485},{"s":"B3b","x":1185,"y":480},{"s":"B3b","x":1193,"y":478},
{"s":"B4a","x":735,"y":540},{"s":"B4a","x":741,"y":543},{"s":"B4a","x":747,"y":547},{"s":"B4a","x":753,"y":553},{"s":"B4a","x":758,"y":552},{"s":"B4a","x":762,"y":555},{"s":"B4a","x":766,"y":553},{"s":"B4a","x":770,"y":557},{"s":"B4a","x":774,"y":563},{"s":"B4a","x":778,"y":568},{"s":"B4a","x":783,"y":575},{"s":"B4a","x":787,"y":580},{"s":"B4a","x":792,"y":576},{"s":"B4a","x":797,"y":577},{"s":"B4a","x":803,"y":571},{"s":"B4a","x":810,"y":573},{"s":"B4a","x":815,"y":568},{"s":"B4a","x":820,"y":563},{"s":"B4a","x":827,"y":552},{"s":"B4a","x":833,"y":540},{"s":"B4a","x":839,"y":525},{"s":"B4a","x":845,"y":513},{"s":"B4a","x":849,"y":518},{"s":"B4a","x":853,"y":527},{"s":"B4a","x":858,"y":555},{"s":"B4a","x":865,"y":595},{"s":"B4a","x":872,"y":633},{"s":"B4a","x":879,"y":610},{"s":"B4a","x":887,"y":577},{"s":"B4a","x":892,"y":550},{"s":"B4a","x":897,"y":527},{"s":"B4a","x":901,"y":505},{"s":"B4a","x":905,"y":487},{"s":"B4a","x":909,"y":488},{"s":"B4a","x":913,"y":493},{"s":"B4a","x":920,"y":530},{"s":"B4a","x":926,"y":565},{"s":"B4a","x":930,"y":590},{"s":"B4a","x":935,"y":580},{"s":"B4a","x":940,"y":567},{"s":"B4a","x":946,"y":530},{"s":"B4a","x":953,"y":483},{"s":"B4a","x":960,"y":490},{"s":"B4a","x":965,"y":497},{"s":"B4a","x":970,"y":500},{"s":"B4a","x":975,"y":490},{"s":"B4a","x":980,"y":483},{"s":"B4a","x":985,"y":472},{"s":"B4a","x":990,"y":467},{"s":"B4a","x":997,"y":475},{"s":"B4a","x":1003,"y":487},{"s":"B4a","x":1010,"y":505},{"s":"B4a","x":1017,"y":520},{"s":"B4a","x":1022,"y":513},{"s":"B4a","x":1027,"y":510},{"s":"B4a","x":1032,"y":507},{"s":"B4a","x":1037,"y":503},{"s":"B4a","x":1042,"y":512},{"s":"B4a","x":1047,"y":510},{"s":"B4a","x":1055,"y":528},{"s":"B4a","x":1063,"y":543},{"s":"B4a","x":1069,"y":538},{"s":"B4a","x":1075,"y":533},{"s":"B4a","x":1081,"y":530},{"s":"B4a","x":1087,"y":523},{"s":"B4a","x":1095,"y":515},{"s":"B4a","x":1103,"y":507},{"s":"B4a","x":1110,"y":513},{"s":"B4a","x":1117,"y":510},{"s":"B4a","x":1123,"y":516},{"s":"B4a","x":1130,"y":513},{"s":"B4a","x":1140,"y":498},{"s":"B4a","x":1150,"y":483},{"s":"B4a","x":1155,"y":489},{"s":"B4a","x":1160,"y":485},{"s":"B4a","x":1165,"y":491},{"s":"B4a","x":1170,"y":487},{"s":"B4a","x":1175,"y":493},{"s":"B4a","x":1180,"y":490},{"s":"B4a","x":1187,"y":493},{"s":"B4a","x":1193,"y":490},
{"s":"B4b","x":735,"y":567},{"s":"B4b","x":743,"y":570},{"s":"B4b","x":746,"y":558},{"s":"B4b","x":750,"y":550},{"s":"B4b","x":755,"y":556},{"s":"B4b","x":760,"y":560},{"s":"B4b","x":765,"y":562},{"s":"B4b","x":770,"y":567},{"s":"B4b","x":774,"y":572},{"s":"B4b","x":778,"y":575},{"s":"B4b","x":783,"y":578},{"s":"B4b","x":787,"y":582},{"s":"B4b","x":792,"y":579},{"s":"B4b","x":797,"y":576},{"s":"B4b","x":803,"y":574},{"s":"B4b","x":810,"y":570},{"s":"B4b","x":818,"y":560},{"s":"B4b","x":827,"y":550},{"s":"B4b","x":833,"y":535},{"s":"B4b","x":840,"y":520},{"s":"B4b","x":847,"y":517},{"s":"B4b","x":852,"y":523},{"s":"B4b","x":857,"y":533},{"s":"B4b","x":864,"y":575},{"s":"B4b","x":872,"y":623},{"s":"B4b","x":879,"y":598},{"s":"B4b","x":887,"y":570},{"s":"B4b","x":895,"y":530},{"s":"B4b","x":903,"y":493},{"s":"B4b","x":910,"y":496},{"s":"B4b","x":917,"y":503},{"s":"B4b","x":923,"y":533},{"s":"B4b","x":930,"y":567},{"s":"B4b","x":935,"y":558},{"s":"B4b","x":940,"y":547},{"s":"B4b","x":948,"y":518},{"s":"B4b","x":957,"y":490},{"s":"B4b","x":965,"y":494},{"s":"B4b","x":973,"y":497},{"s":"B4b","x":982,"y":485},{"s":"B4b","x":990,"y":472},{"s":"B4b","x":997,"y":485},{"s":"B4b","x":1003,"y":497},{"s":"B4b","x":1010,"y":512},{"s":"B4b","x":1017,"y":525},{"s":"B4b","x":1025,"y":521},{"s":"B4b","x":1033,"y":517},{"s":"B4b","x":1040,"y":520},{"s":"B4b","x":1047,"y":517},{"s":"B4b","x":1055,"y":530},{"s":"B4b","x":1063,"y":540},{"s":"B4b","x":1069,"y":535},{"s":"B4b","x":1075,"y":533},{"s":"B4b","x":1081,"y":530},{"s":"B4b","x":1087,"y":527},{"s":"B4b","x":1093,"y":520},{"s":"B4b","x":1098,"y":518},{"s":"B4b","x":1104,"y":513},{"s":"B4b","x":1110,"y":510},{"s":"B4b","x":1116,"y":514},{"s":"B4b","x":1122,"y":515},{"s":"B4b","x":1128,"y":521},{"s":"B4b","x":1133,"y":520},{"s":"B4b","x":1138,"y":514},{"s":"B4b","x":1143,"y":510},{"s":"B4b","x":1148,"y":505},{"s":"B4b","x":1153,"y":500},{"s":"B4b","x":1158,"y":503},{"s":"B4b","x":1163,"y":498},{"s":"B4b","x":1168,"y":502},{"s":"B4b","x":1173,"y":497},{"s":"B4b","x":1178,"y":503},{"s":"B4b","x":1183,"y":500},{"s":"B4b","x":1188,"y":505},{"s":"B4b","x":1193,"y":503},
{"s":"B5a","x":735,"y":690},{"s":"B5a","x":740,"y":686},{"s":"B5a","x":745,"y":687},{"s":"B5a","x":749,"y":681},{"s":"B5a","x":753,"y":683},{"s":"B5a","x":758,"y":677},{"s":"B5a","x":762,"y":680},{"s":"B5a","x":766,"y":674},{"s":"B5a","x":770,"y":677},{"s":"B5a","x":774,"y":684},{"s":"B5a","x":778,"y":683},{"s":"B5a","x":783,"y":689},{"s":"B5a","x":787,"y":687},{"s":"B5a","x":791,"y":693},{"s":"B5a","x":795,"y":692},{"s":"B5a","x":799,"y":698},{"s":"B5a","x":803,"y":697},{"s":"B5a","x":808,"y":690},{"s":"B5a","x":812,"y":692},{"s":"B5a","x":816,"y":685},{"s":"B5a","x":820,"y":687},{"s":"B5a","x":827,"y":680},{"s":"B5a","x":833,"y":673},{"s":"B5a","x":838,"y":658},{"s":"B5a","x":843,"y":643},{"s":"B5a","x":848,"y":648},{"s":"B5a","x":853,"y":660},{"s":"B5a","x":860,"y":700},{"s":"B5a","x":866,"y":730},{"s":"B5a","x":872,"y":750},{"s":"B5a","x":879,"y":728},{"s":"B5a","x":887,"y":700},{"s":"B5a","x":893,"y":675},{"s":"B5a","x":900,"y":653},{"s":"B5a","x":905,"y":644},{"s":"B5a","x":910,"y":638},{"s":"B5a","x":915,"y":645},{"s":"B5a","x":920,"y":660},{"s":"B5a","x":928,"y":690},{"s":"B5a","x":937,"y":713},{"s":"B5a","x":943,"y":693},{"s":"B5a","x":950,"y":673},{"s":"B5a","x":960,"y":645},{"s":"B5a","x":970,"y":620},{"s":"B5a","x":976,"y":628},{"s":"B5a","x":983,"y":637},{"s":"B5a","x":989,"y":637},{"s":"B5a","x":995,"y":642},{"s":"B5a","x":1001,"y":643},{"s":"B5a","x":1007,"y":647},{"s":"B5a","x":1012,"y":650},{"s":"B5a","x":1017,"y":653},{"s":"B5a","x":1022,"y":656},{"s":"B5a","x":1027,"y":660},{"s":"B5a","x":1038,"y":678},{"s":"B5a","x":1050,"y":697},{"s":"B5a","x":1055,"y":688},{"s":"B5a","x":1060,"y":682},{"s":"B5a","x":1065,"y":672},{"s":"B5a","x":1070,"y":667},{"s":"B5a","x":1076,"y":664},{"s":"B5a","x":1082,"y":660},{"s":"B5a","x":1087,"y":655},{"s":"B5a","x":1093,"y":653},{"s":"B5a","x":1100,"y":660},{"s":"B5a","x":1107,"y":658},{"s":"B5a","x":1113,"y":665},{"s":"B5a","x":1120,"y":663},{"s":"B5a","x":1125,"y":666},{"s":"B5a","x":1130,"y":662},{"s":"B5a","x":1135,"y":664},{"s":"B5a","x":1140,"y":660},{"s":"B5a","x":1145,"y":654},{"s":"B5a","x":1150,"y":652},{"s":"B5a","x":1155,"y":648},{"s":"B5a","x":1160,"y":640},{"s":"B5a","x":1167,"y":618},{"s":"B5a","x":1173,"y":593},{"s":"B5a","x":1178,"y":573},{"s":"B5a","x":1183,"y":563},{"s":"B5a","x":1188,"y":565},{"s":"B5a","x":1193,"y":570},
{"s":"B5b","x":735,"y":693},{"s":"B5b","x":740,"y":697},{"s":"B5b","x":745,"y":693},{"s":"B5b","x":749,"y":697},{"s":"B5b","x":753,"y":693},{"s":"B5b","x":758,"y":696},{"s":"B5b","x":762,"y":692},{"s":"B5b","x":766,"y":694},{"s":"B5b","x":770,"y":690},{"s":"B5b","x":778,"y":697},{"s":"B5b","x":783,"y":700},{"s":"B5b","x":787,"y":703},{"s":"B5b","x":792,"y":698},{"s":"B5b","x":797,"y":698},{"s":"B5b","x":802,"y":693},{"s":"B5b","x":807,"y":693},{"s":"B5b","x":813,"y":690},{"s":"B5b","x":820,"y":687},{"s":"B5b","x":828,"y":678},{"s":"B5b","x":837,"y":670},{"s":"B5b","x":842,"y":663},{"s":"B5b","x":847,"y":657},{"s":"B5b","x":852,"y":665},{"s":"B5b","x":857,"y":673},{"s":"B5b","x":863,"y":705},{"s":"B5b","x":868,"y":728},{"s":"B5b","x":873,"y":740},{"s":"B5b","x":880,"y":718},{"s":"B5b","x":887,"y":697},{"s":"B5b","x":895,"y":675},{"s":"B5b","x":903,"y":655},{"s":"B5b","x":910,"y":642},{"s":"B5b","x":917,"y":655},{"s":"B5b","x":925,"y":680},{"s":"B5b","x":933,"y":707},{"s":"B5b","x":943,"y":683},{"s":"B5b","x":953,"y":660},{"s":"B5b","x":962,"y":640},{"s":"B5b","x":970,"y":623},{"s":"B5b","x":978,"y":633},{"s":"B5b","x":987,"y":643},{"s":"B5b","x":993,"y":638},{"s":"B5b","x":998,"y":638},{"s":"B5b","x":1004,"y":632},{"s":"B5b","x":1010,"y":633},{"s":"B5b","x":1018,"y":642},{"s":"B5b","x":1027,"y":650},{"s":"B5b","x":1038,"y":672},{"s":"B5b","x":1050,"y":693},{"s":"B5b","x":1058,"y":683},{"s":"B5b","x":1067,"y":673},{"s":"B5b","x":1072,"y":675},{"s":"B5b","x":1077,"y":670},{"s":"B5b","x":1082,"y":671},{"s":"B5b","x":1087,"y":667},{"s":"B5b","x":1092,"y":674},{"s":"B5b","x":1097,"y":673},{"s":"B5b","x":1102,"y":679},{"s":"B5b","x":1107,"y":680},{"s":"B5b","x":1112,"y":672},{"s":"B5b","x":1117,"y":673},{"s":"B5b","x":1122,"y":667},{"s":"B5b","x":1127,"y":667},{"s":"B5b","x":1133,"y":661},{"s":"B5b","x":1138,"y":658},{"s":"B5b","x":1144,"y":655},{"s":"B5b","x":1150,"y":650},{"s":"B5b","x":1157,"y":650},{"s":"B5b","x":1163,"y":647},{"s":"B5b","x":1170,"y":648},{"s":"B5b","x":1178,"y":645},{"s":"B5b","x":1185,"y":646},{"s":"B5b","x":1193,"y":643},
{"s":"B6a","x":735,"y":797},{"s":"B6a","x":740,"y":793},{"s":"B6a","x":745,"y":795},{"s":"B6a","x":751,"y":790},{"s":"B6a","x":757,"y":793},{"s":"B6a","x":761,"y":799},{"s":"B6a","x":765,"y":798},{"s":"B6a","x":769,"y":804},{"s":"B6a","x":773,"y":803},{"s":"B6a","x":778,"y":801},{"s":"B6a","x":783,"y":805},{"s":"B6a","x":788,"y":803},{"s":"B6a","x":793,"y":807},{"s":"B6a","x":798,"y":804},{"s":"B6a","x":803,"y":807},{"s":"B6a","x":808,"y":805},{"s":"B6a","x":813,"y":807},{"s":"B6a","x":820,"y":803},{"s":"B6a","x":827,"y":800},{"s":"B6a","x":833,"y":782},{"s":"B6a","x":840,"y":763},{"s":"B6a","x":845,"y":766},{"s":"B6a","x":850,"y":770},{"s":"B6a","x":857,"y":805},{"s":"B6a","x":865,"y":840},{"s":"B6a","x":872,"y":863},{"s":"B6a","x":880,"y":838},{"s":"B6a","x":887,"y":810},{"s":"B6a","x":895,"y":778},{"s":"B6a","x":903,"y":747},{"s":"B6a","x":908,"y":750},{"s":"B6a","x":913,"y":753},{"s":"B6a","x":920,"y":780},{"s":"B6a","x":927,"y":805},{"s":"B6a","x":933,"y":823},{"s":"B6a","x":942,"y":800},{"s":"B6a","x":950,"y":777},{"s":"B6a","x":958,"y":752},{"s":"B6a","x":967,"y":730},{"s":"B6a","x":975,"y":742},{"s":"B6a","x":983,"y":753},{"s":"B6a","x":989,"y":758},{"s":"B6a","x":995,"y":772},{"s":"B6a","x":1001,"y":777},{"s":"B6a","x":1007,"y":790},{"s":"B6a","x":1012,"y":795},{"s":"B6a","x":1017,"y":805},{"s":"B6a","x":1022,"y":810},{"s":"B6a","x":1028,"y":822},{"s":"B6a","x":1034,"y":827},{"s":"B6a","x":1040,"y":837},{"s":"B6a","x":1046,"y":830},{"s":"B6a","x":1053,"y":830},{"s":"B6a","x":1060,"y":822},{"s":"B6a","x":1067,"y":823},{"s":"B6a","x":1072,"y":830},{"s":"B6a","x":1078,"y":837},{"s":"B6a","x":1084,"y":843},{"s":"B6a","x":1090,"y":850},{"s":"B6a","x":1096,"y":852},{"s":"B6a","x":1102,"y":857},{"s":"B6a","x":1108,"y":862},{"s":"B6a","x":1113,"y":863},{"s":"B6a","x":1119,"y":857},{"s":"B6a","x":1125,"y":860},{"s":"B6a","x":1131,"y":856},{"s":"B6a","x":1137,"y":860},{"s":"B6a","x":1143,"y":858},{"s":"B6a","x":1150,"y":862},{"s":"B6a","x":1156,"y":858},{"s":"B6a","x":1163,"y":863},{"s":"B6a","x":1170,"y":861},{"s":"B6a","x":1178,"y":860},{"s":"B6a","x":1185,"y":857},{"s":"B6a","x":1193,"y":860},
{"s":"B6b","x":735,"y":820},{"s":"B6b","x":740,"y":814},{"s":"B6b","x":745,"y":808},{"s":"B6b","x":749,"y":801},{"s":"B6b","x":753,"y":797},{"s":"B6b","x":758,"y":803},{"s":"B6b","x":763,"y":805},{"s":"B6b","x":768,"y":811},{"s":"B6b","x":773,"y":813},{"s":"B6b","x":778,"y":816},{"s":"B6b","x":783,"y":818},{"s":"B6b","x":788,"y":823},{"s":"B6b","x":793,"y":823},{"s":"B6b","x":800,"y":817},{"s":"B6b","x":807,"y":810},{"s":"B6b","x":812,"y":808},{"s":"B6b","x":817,"y":805},{"s":"B6b","x":822,"y":803},{"s":"B6b","x":827,"y":800},{"s":"B6b","x":833,"y":785},{"s":"B6b","x":840,"y":768},{"s":"B6b","x":845,"y":771},{"s":"B6b","x":850,"y":773},{"s":"B6b","x":858,"y":810},{"s":"B6b","x":866,"y":845},{"s":"B6b","x":873,"y":868},{"s":"B6b","x":880,"y":845},{"s":"B6b","x":887,"y":820},{"s":"B6b","x":896,"y":785},{"s":"B6b","x":905,"y":750},{"s":"B6b","x":910,"y":755},{"s":"B6b","x":915,"y":760},{"s":"B6b","x":922,"y":790},{"s":"B6b","x":928,"y":813},{"s":"B6b","x":933,"y":830},{"s":"B6b","x":943,"y":805},{"s":"B6b","x":953,"y":780},{"s":"B6b","x":960,"y":768},{"s":"B6b","x":968,"y":760},{"s":"B6b","x":977,"y":773},{"s":"B6b","x":987,"y":787},{"s":"B6b","x":993,"y":792},{"s":"B6b","x":1000,"y":803},{"s":"B6b","x":1006,"y":808},{"s":"B6b","x":1013,"y":820},{"s":"B6b","x":1020,"y":825},{"s":"B6b","x":1027,"y":835},{"s":"B6b","x":1033,"y":838},{"s":"B6b","x":1040,"y":847},{"s":"B6b","x":1047,"y":846},{"s":"B6b","x":1055,"y":850},{"s":"B6b","x":1062,"y":849},{"s":"B6b","x":1070,"y":853},{"s":"B6b","x":1077,"y":862},{"s":"B6b","x":1083,"y":868},{"s":"B6b","x":1090,"y":877},{"s":"B6b","x":1097,"y":883},{"s":"B6b","x":1102,"y":880},{"s":"B6b","x":1108,"y":885},{"s":"B6b","x":1114,"y":882},{"s":"B6b","x":1120,"y":887},{"s":"B6b","x":1127,"y":884},{"s":"B6b","x":1135,"y":888},{"s":"B6b","x":1142,"y":885},{"s":"B6b","x":1150,"y":890},{"s":"B6b","x":1155,"y":886},{"s":"B6b","x":1160,"y":885},{"s":"B6b","x":1165,"y":881},{"s":"B6b","x":1170,"y":880},{"s":"B6b","x":1176,"y":885},{"s":"B6b","x":1182,"y":884},{"s":"B6b","x":1188,"y":889},{"s":"B6b","x":1193,"y":887}
],
"leaders": [
{"x":165,"y":100,"x2":206,"y2":132},
{"x":265,"y":82,"x2":280,"y2":128},
{"x":193,"y":218,"x2":240,"y2":248}
],
"bars": [
{"x":75,"y":748,"x2":75,"y2":858},
{"x":72,"y":858,"x2":255,"y2":858}
],
"peaks": [
{"label":"P1","x":137,"y":104},
{"label":"P2","x":243,"y":75},
{"label":"N1","x":162,"y":226}
],
"times": [
{"label":"Baseline","x":634,"y":138},
{"label":"(t = 0)","x":627,"y":190},
{"label":"1 hour","x":627,"y":329},
{"label":"2 hours","x":631,"y":459},
{"label":"3 hours","x":631,"y":594},
{"label":"4 hours","x":631,"y":730},
{"label":"5 hours","x":631,"y":827},
{"label":"2 ms","x":150,"y":907}
],
"serifRot": [
{"label":"1 µV","x":31,"y":797}
],
"panels": [
{"label":"(A)","x":57,"y":62},
{"label":"(B)","x":757,"y":55}
],
"o2big": [
{"label":"O","x":519,"y":879},
{"label":"-Supplemented","x":558,"y":879}
],
"o2sub": [
{"label":"2","x":540,"y":889}
]
},
"layer": [
{"data": {"name": "traces"},
 "mark": {"type": "line", "color": "black", "strokeWidth": 2.1, "strokeJoin": "round"},
 "encoding": {
  "x": {"field": "x", "type": "quantitative", "scale": {"domain": [0, 1193], "nice": false, "zero": false}, "axis": null},
  "y": {"field": "y", "type": "quantitative", "scale": {"domain": [0, 913], "nice": false, "zero": false, "reverse": true}, "axis": null},
  "detail": {"field": "s", "type": "nominal"}
 }},
{"data": {"name": "leaders"},
 "mark": {"type": "rule", "color": "black", "strokeWidth": 3},
 "encoding": {"x": {"field": "x", "type": "quantitative"}, "y": {"field": "y", "type": "quantitative"}, "x2": {"field": "x2"}, "y2": {"field": "y2"}}},
{"data": {"name": "bars"},
 "mark": {"type": "rule", "color": "black", "strokeWidth": 5, "strokeCap": "square"},
 "encoding": {"x": {"field": "x", "type": "quantitative"}, "y": {"field": "y", "type": "quantitative"}, "x2": {"field": "x2"}, "y2": {"field": "y2"}}},
{"data": {"name": "peaks"},
 "mark": {"type": "text", "font": "Liberation Serif", "fontSize": 39, "align": "center", "baseline": "alphabetic", "color": "black"},
 "encoding": {"x": {"field": "x", "type": "quantitative"}, "y": {"field": "y", "type": "quantitative"}, "text": {"field": "label"}}},
{"data": {"name": "times"},
 "mark": {"type": "text", "font": "Liberation Serif", "fontSize": 45, "align": "center", "baseline": "alphabetic", "color": "black"},
 "encoding": {"x": {"field": "x", "type": "quantitative"}, "y": {"field": "y", "type": "quantitative"}, "text": {"field": "label"}}},
{"data": {"name": "serifRot"},
 "mark": {"type": "text", "font": "Liberation Serif", "fontSize": 45, "align": "center", "baseline": "middle", "angle": 270, "color": "black"},
 "encoding": {"x": {"field": "x", "type": "quantitative"}, "y": {"field": "y", "type": "quantitative"}, "text": {"field": "label"}}},
{"data": {"name": "panels"},
 "mark": {"type": "text", "font": "Liberation Sans", "fontSize": 48, "align": "center", "baseline": "alphabetic", "color": "black"},
 "encoding": {"x": {"field": "x", "type": "quantitative"}, "y": {"field": "y", "type": "quantitative"}, "text": {"field": "label"}}},
{"data": {"name": "o2big"},
 "mark": {"type": "text", "font": "Liberation Sans", "fontSize": 27, "align": "left", "baseline": "alphabetic", "color": "black"},
 "encoding": {"x": {"field": "x", "type": "quantitative"}, "y": {"field": "y", "type": "quantitative"}, "text": {"field": "label"}}},
{"data": {"name": "o2sub"},
 "mark": {"type": "text", "font": "Liberation Sans", "fontSize": 17, "align": "left", "baseline": "alphabetic", "color": "black"},
 "encoding": {"x": {"field": "x", "type": "quantitative"}, "y": {"field": "y", "type": "quantitative"}, "text": {"field": "label"}}}
]
}
